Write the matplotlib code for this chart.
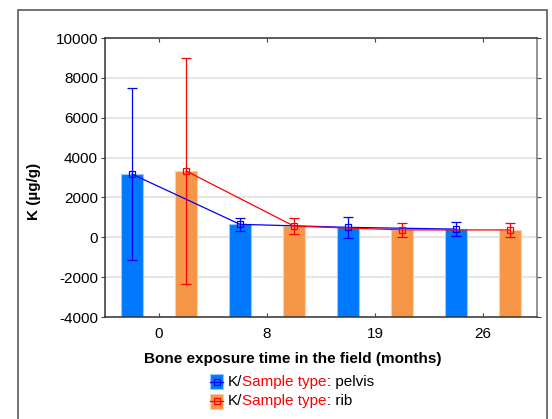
import numpy as np
import matplotlib
matplotlib.use('Agg')
import matplotlib.pyplot as plt
from matplotlib.patches import Rectangle
from matplotlib.lines import Line2D

plt.rcParams['font.family'] = ['Liberation Sans', 'DejaVu Sans']
plt.rcParams['axes.unicode_minus'] = False

# Potassium content per exposure time
months = ['0', '8', '19', '26']
pelvis_mean = [3170, 650, 500, 410]
pelvis_err = [4300, 330, 530, 350]
rib_mean = [3330, 560, 370, 370]
rib_err = [5670, 410, 350, 350]

bar_blue = '#0079ff'
bar_orange = '#f79646'
line_blue = '#0000ff'
line_red = '#ff0000'

W, H = 552, 419
fig = plt.figure(figsize=(W / 100, H / 100), dpi=100)
ax = fig.add_axes([105 / W, 1 - 317 / H, 432 / W, 279 / H])

x = np.arange(len(months)) + 0.5
off = 0.25
bw = 0.205
ybase = -4000

ax.bar(x - off, np.array(pelvis_mean) - ybase, bw, bottom=ybase,
       color=bar_blue, edgecolor='#9cc8ff', linewidth=0.8, zorder=2)
ax.bar(x + off, np.array(rib_mean) - ybase, bw, bottom=ybase,
       color=bar_orange, edgecolor='#fbcfa8', linewidth=0.8, zorder=2)

ax.errorbar(x - off, pelvis_mean, yerr=pelvis_err, color=line_blue, lw=0.9,
            elinewidth=0.9, capsize=3.6, capthick=0.9, marker='s', ms=4.5,
            mfc='none', mec=line_blue, mew=0.9, zorder=4)
ax.errorbar(x + off, rib_mean, yerr=rib_err, color=line_red, lw=0.9,
            elinewidth=0.9, capsize=3.6, capthick=0.9, marker='s', ms=4.5,
            mfc='none', mec=line_red, mew=0.9, zorder=4)

ax.set_xlim(0, 4)
ax.set_ylim(-4000, 10000)
ax.set_yticks(np.arange(-4000, 10001, 2000))
ax.set_xticks(x)
ax.set_xticklabels(months)
ax.yaxis.grid(True, color='#e2e2e2', lw=1.2, zorder=0)
ax.set_axisbelow(True)
ax.tick_params(axis='x', direction='in', length=3, top=True, pad=7,
               labelsize=11, color='#444444')
ax.tick_params(axis='y', direction='out', length=3, right=True, pad=2,
               labelsize=11, color='#444444')
for s in ax.spines.values():
    s.set_color('#333333')
    s.set_linewidth(1.1)
ax.spines['right'].set_color('#777777')

fig.text(34 / W, 1 - 191 / H, 'K (µg/g)', rotation=90, ha='center',
         va='center', fontsize=11, fontweight='bold')
fig.text(293 / W, 1 - 359 / H, 'Bone exposure time in the field (months)',
         ha='center', va='center', fontsize=11, fontweight='bold')

# outer frame
fig.add_artist(Rectangle((18 / W, -0.05), 529 / W, 1 - 10 / H + 0.05,
                         transform=fig.transFigure, fill=False,
                         edgecolor='#5a5a5a', lw=1.2))

# legend with two-colour labels
def legend_row(yc, face, edge, lcol, tail):
    fig.add_artist(Rectangle((210 / W, 1 - (yc + 7.5) / H), 13 / W, 15 / H,
                             transform=fig.transFigure, facecolor=face,
                             edgecolor=edge, lw=0.8))
    fig.add_artist(Line2D([210 / W, 223 / W], [1 - yc / H, 1 - yc / H],
                          transform=fig.transFigure, color=lcol, lw=0.9))
    fig.add_artist(Line2D([216.5 / W], [1 - yc / H], transform=fig.transFigure,
                          color=lcol, marker='s', ms=4, mfc='none', mew=0.9))
    t = fig.text(228 / W, 1 - yc / H, 'K/', fontsize=11, va='center')
    t2 = ax.annotate('Sample type', xy=(1, 0), xycoords=t, va='bottom',
                     fontsize=11, color='#ff0000', annotation_clip=False)
    ax.annotate(': ' + tail, xy=(1, 0), xycoords=t2, va='bottom',
                fontsize=11, annotation_clip=False)

legend_row(381.5, bar_blue, '#9cc8ff', line_blue, 'pelvis')
legend_row(401, bar_orange, '#fbcfa8', line_red, 'rib')

fig.savefig('out.png', dpi=100)
